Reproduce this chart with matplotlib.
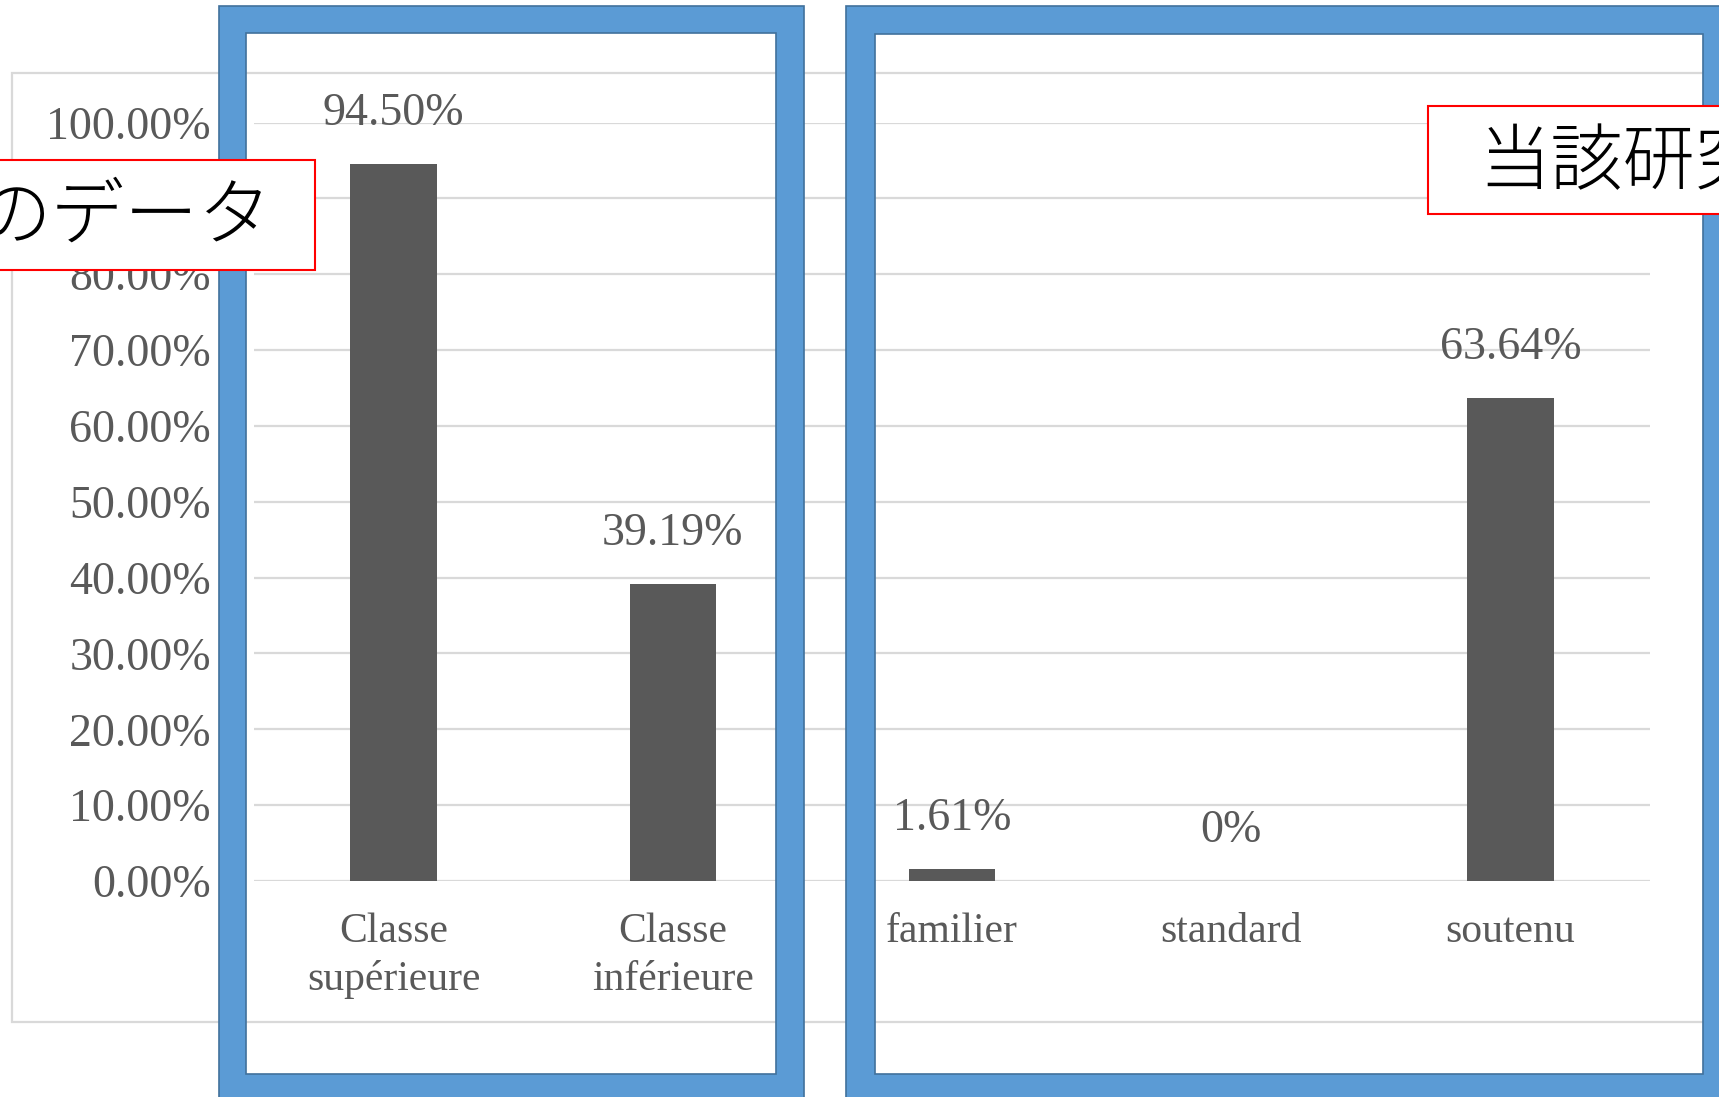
import numpy as np
import matplotlib.pyplot as plt
from matplotlib.patches import Rectangle, PathPatch
from matplotlib.path import Path

categories = ['Classe\nsupérieure', 'Classe\ninférieure', 'familier', 'standard', 'soutenu']
values = [94.50, 39.19, 1.61, 0.0, 63.64]
value_labels = ['94.50%', '39.19%', '1.61%', '0%', '63.64%']
y_ticks = np.arange(0, 101, 10)
y_tick_labels = ['%.2f%%' % t for t in y_ticks]
note_left = 'のデータ'
note_right = '当該研究'

W, H = 1719, 1097
GRAY_TXT = '#595959'
GRID = '#d9d9d9'
BAR = '#595959'
BLUE = '#5b9bd5'
BLUE_EDGE = '#41719c'

plt.rcParams['font.family'] = ['Liberation Serif', 'DejaVu Serif']

fig = plt.figure(figsize=(W / 100, H / 100), dpi=100)
fig.patch.set_facecolor('white')

# plot area in pixels
x0, x1, ybot, ytop = 254, 1650, 881, 122.5
ax = fig.add_axes([x0 / W, 1 - ybot / H, (x1 - x0) / W, (ybot - ytop) / H])
x = np.arange(len(categories))
ax.bar(x, values, width=0.31, color=BAR, zorder=3)
ax.set_xlim(-0.5, len(categories) - 0.5)
ax.set_ylim(0, 100)
ax.set_yticks(y_ticks)
ax.set_yticklabels(y_tick_labels)
ax.set_xticks(x)
ax.set_xticklabels(categories, linespacing=1.3)
ax.tick_params(axis='y', length=0, pad=31, labelsize=33, labelcolor=GRAY_TXT)
ax.tick_params(axis='x', length=0, pad=23, labelsize=30, labelcolor=GRAY_TXT)
ax.grid(axis='y', color=GRID, lw=1.6, zorder=0)
for s in ax.spines.values():
    s.set_visible(False)
ax.set_facecolor('none')

for xi, v, lab in zip(x, values, value_labels):
    ax.annotate(lab, (xi, v), xytext=(0, 28), textcoords='offset points',
                ha='center', va='baseline', fontsize=33, color=GRAY_TXT)

# overlay layer in pixel units
ov = fig.add_axes([0, 0, 1, 1], zorder=5)
ov.set_xlim(0, W)
ov.set_ylim(H, 0)
ov.axis('off')

ov.add_patch(Rectangle((12, 73), 1703, 949, fill=False, ec=GRID, lw=1.6))


def hollow_frame(outer, inner):
    ox0, oy0, ox1, oy1 = outer
    ix0, iy0, ix1, iy1 = inner
    verts = [(ox0, oy0), (ox1, oy0), (ox1, oy1), (ox0, oy1), (ox0, oy0),
             (ix0, iy0), (ix0, iy1), (ix1, iy1), (ix1, iy0), (ix0, iy0)]
    codes = [Path.MOVETO, Path.LINETO, Path.LINETO, Path.LINETO, Path.CLOSEPOLY] * 2
    return PathPatch(Path(verts, codes), fc=BLUE, ec=BLUE_EDGE, lw=1.2)


ov.add_patch(hollow_frame((219, 6, 804, 1120), (246, 33, 776, 1074)))
ov.add_patch(hollow_frame((846, 6, 1731, 1120), (875, 34, 1703, 1074)))

ov.add_patch(Rectangle((-10, 160), 325, 110, fc='white', ec='red', lw=1.5))
ov.add_patch(Rectangle((1428, 106), 400, 108, fc='white', ec='red', lw=1.5))
cjk = ['Noto Sans CJK JP', 'DejaVu Sans']
ov.text(272, 218, note_left, ha='right', va='center', fontsize=53,
        family=cjk, fontweight='light', color='black')
ov.text(1478, 164, note_right, ha='left', va='center', fontsize=52,
        family=cjk, fontweight='light', color='black')

fig.savefig('out.png', dpi=100)
